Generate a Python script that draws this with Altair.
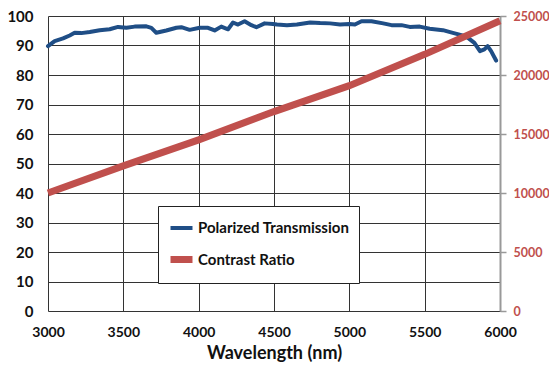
import altair as alt
import pandas as pd

# Polarized transmission (%)
trans_wl = [3000, 3044, 3100, 3144, 3177, 3221, 3277, 3343, 3409, 3465, 3520, 3575,
            3653, 3686, 3719, 3785, 3852, 3885, 3940, 4007, 4062, 4106, 4150, 4195,
            4228, 4261, 4305, 4350, 4383, 4438, 4493, 4520, 4586, 4652, 4740, 4806,
            4872, 4938, 5000, 5037, 5081, 5147, 5225, 5280, 5346, 5401, 5467, 5533,
            5621, 5687, 5775, 5830, 5867, 5896, 5918, 5941, 5974]
trans_val = [89.8, 91.5, 92.4, 93.4, 94.3, 94.2, 94.6, 95.2, 95.5, 96.3, 96.0, 96.4,
             96.5, 96.0, 94.3, 95.1, 96.0, 96.2, 95.3, 96.0, 96.0, 95.1, 96.4, 95.5,
             97.8, 97.1, 98.2, 96.9, 96.2, 97.5, 97.3, 97.1, 96.9, 97.1, 97.8, 97.6,
             97.5, 97.1, 97.3, 97.1, 98.2, 98.2, 97.5, 96.9, 96.9, 96.3, 96.4, 95.7,
             95.2, 94.3, 93.1, 90.9, 88.1, 88.7, 89.8, 88.1, 84.9]

# Contrast ratio
cr_wl = [3000, 3500, 4000, 4500, 5000, 5500, 6000]
cr_val = [10000, 12300, 14500, 16900, 19100, 21750, 24600]

series_names = ["Polarized Transmission", "Contrast Ratio"]
series_colors = ["#1F4E86", "#C0504D"]
series_widths = [4, 7]

df_t = pd.DataFrame({"wl": trans_wl, "v": trans_val, "series": series_names[0]})
df_c = pd.DataFrame({"wl": cr_wl, "v": cr_val, "series": series_names[1]})

FONT = "Lato"

x_enc = alt.X(
    "wl:Q",
    scale=alt.Scale(domain=[3000, 6000], nice=False),
    axis=alt.Axis(
        values=list(range(3000, 6001, 500)), format="d", grid=True, gridColor="#333333",
        gridWidth=1, tickSize=0, domain=False, labelPadding=14,
        labelFont=FONT, labelFontSize=14, labelFontWeight="bold", labelColor="#111111",
        title="Wavelength (nm)", titleFont=FONT, titleFontSize=18,
        titleFontWeight="bold", titleColor="#111111", titlePadding=5,
        labelFlush=False,
    ),
)

color_enc = alt.Color(
    "series:N",
    scale=alt.Scale(domain=series_names, range=series_colors),
    legend=alt.Legend(
        title=None, orient="none", legendX=110, legendY=190,
        fillColor="white", strokeColor="#222222", padding=9,
        symbolType="stroke", symbolSize=484, symbolStrokeWidth=5,
        labelFont=FONT, labelFontSize=15, labelFontWeight="bold",
        labelColor="#111111", rowPadding=9, labelOffset=2, labelLimit=300,
        direction="vertical",
    ),
)
sw_enc = alt.StrokeWidth(
    "series:N",
    scale=alt.Scale(domain=series_names, range=series_widths),
    legend=None,
)

left = alt.Chart(df_t).mark_line(strokeJoin="round", strokeCap="round").encode(
    x=x_enc,
    y=alt.Y(
        "v:Q",
        scale=alt.Scale(domain=[0, 100], nice=False),
        axis=alt.Axis(
            values=list(range(0, 101, 10)), format="d", grid=True, gridColor="#333333",
            gridWidth=1, tickSize=0, domain=False, labelPadding=15,
            labelFont=FONT, labelFontSize=15, labelFontWeight="bold",
            labelColor="#111111", title=None,
        ),
    ),
    color=color_enc,
    strokeWidth=sw_enc,
)

right = alt.Chart(df_c).mark_line(strokeCap="butt").encode(
    x=x_enc,
    y=alt.Y(
        "v:Q",
        scale=alt.Scale(domain=[0, 25000], nice=False),
        axis=alt.Axis(
            orient="right", values=list(range(0, 25001, 5000)), format="d", grid=False,
            domain=True, domainColor="#999999", domainWidth=2,
            tickColor="#999999", tickSize=6, tickWidth=1.5, labelPadding=7,
            labelFont=FONT, labelFontSize=12.5, labelFontWeight="bold",
            labelColor="#C0504D", title=None,
        ),
    ),
    color=color_enc,
    strokeWidth=sw_enc,
)

chart = (
    alt.layer(left, right)
    .resolve_scale(y="independent")
    .properties(
        width=452, height=295,
        autosize=alt.AutoSizeParams(type="none"),
        padding={"left": 40, "top": 8, "right": 49, "bottom": 56},
        background="white",
    )
    .configure_view(stroke=None)
)

chart.save("out.html", embed_options={"renderer": "svg", "actions": False})
